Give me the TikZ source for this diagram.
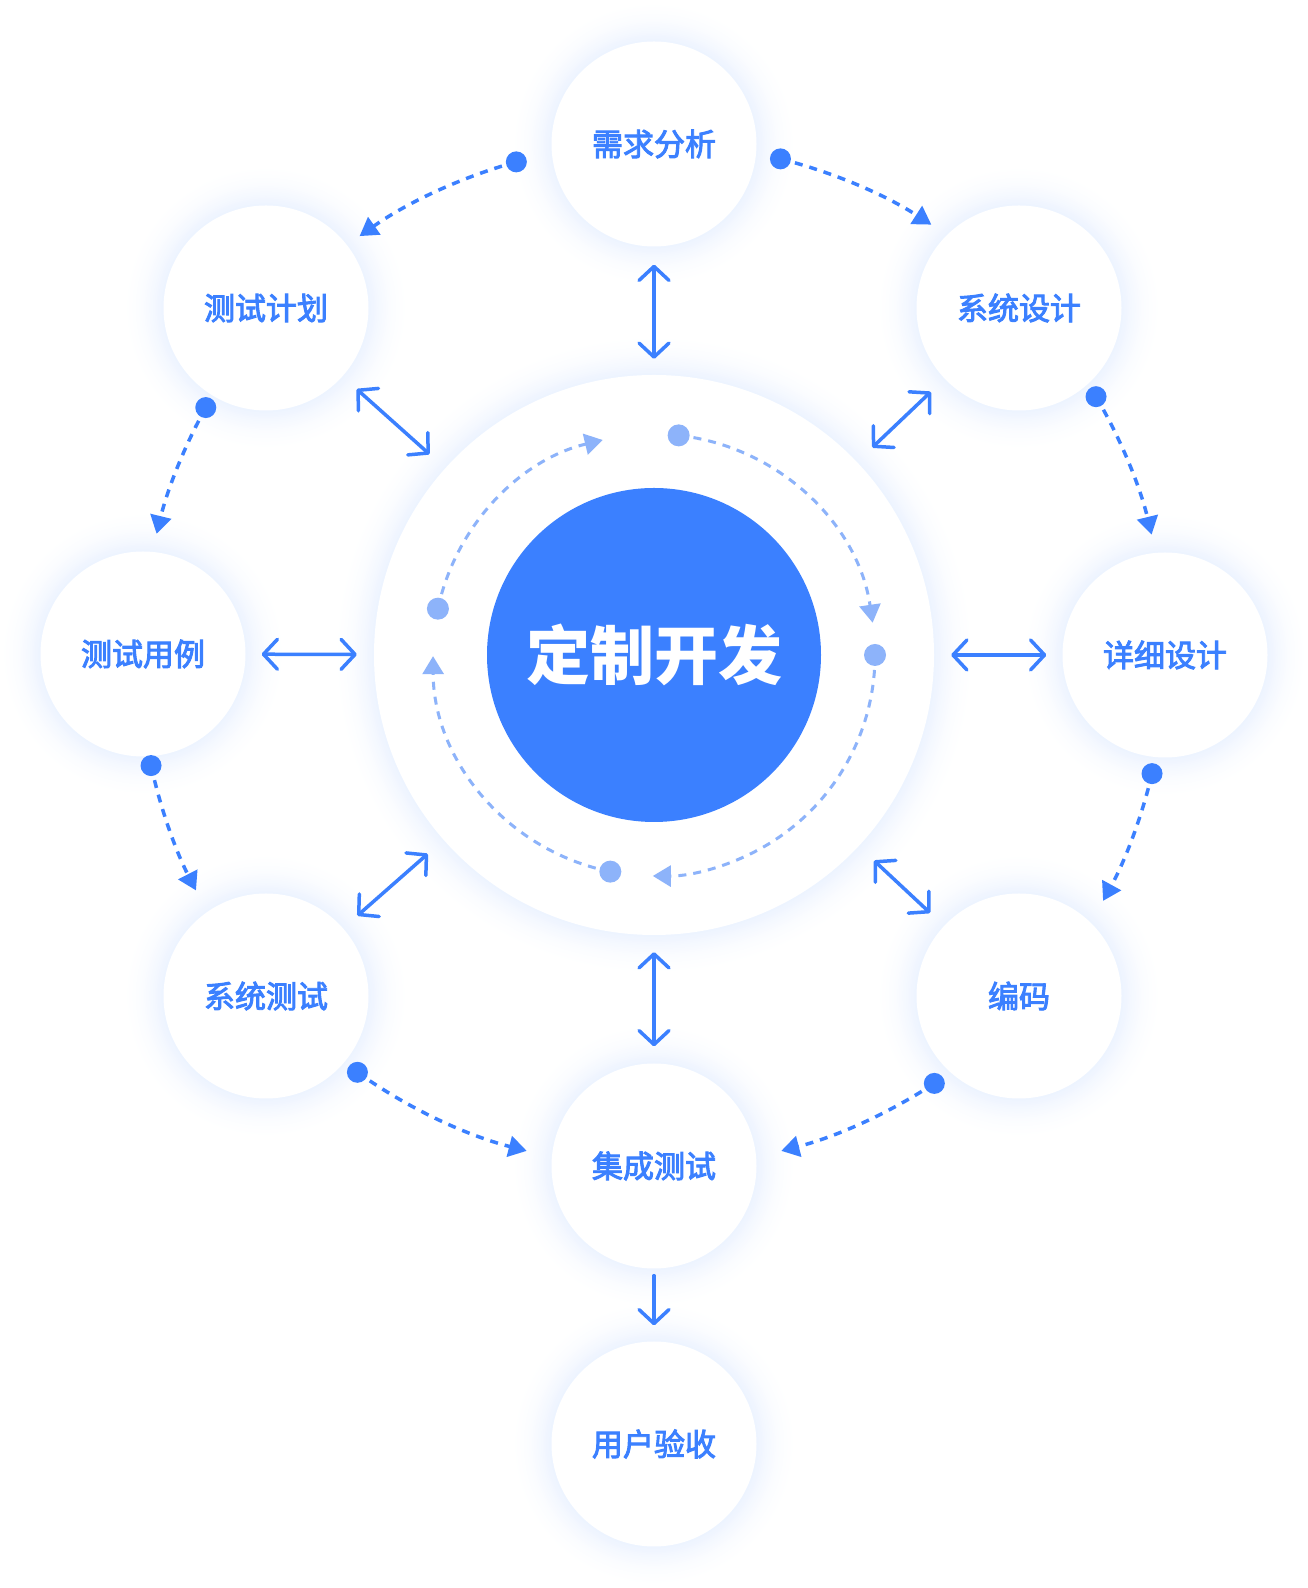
\documentclass[tikz,border=0pt]{standalone}
\usepackage{fontspec}
\newfontfamily\cjk{Noto Sans CJK SC}
\newfontfamily\cjkm{Noto Sans CJK SC}[FakeBold=3]
\usetikzlibrary{arrows.meta}
\definecolor{mainblue}{HTML}{3B80FF}
\definecolor{lightblue}{HTML}{8DB3FA}
\begin{document}
\begin{tikzpicture}[x=1pt,y=1pt,
  stage/.style={circle, fill=white, minimum size=205pt, inner sep=0pt,
    font=\cjkm\fontsize{31}{31}\selectfont, text=mainblue},
  dbl/.style={draw=mainblue, line width=3.5pt, line cap=round,
    {Straight Barb[length=14pt,width=30pt,line width=3.5pt,round]}-{Straight Barb[length=14pt,width=30pt,line width=3.5pt,round]}},
  single/.style={draw=mainblue, line width=3.5pt, line cap=round,
    -{Straight Barb[length=14pt,width=30pt,line width=3.5pt,round]}},
  odash/.style={draw=mainblue, line width=3.5pt, dash pattern=on 8pt off 7pt,
    -{Triangle[length=18pt,width=21pt]}},
  idash/.style={draw=lightblue, line width=3pt, dash pattern=on 8pt off 7pt,
    -{Triangle[length=18pt,width=21pt]}},
  odot/.style={circle, fill=mainblue, minimum size=21pt, inner sep=0pt},
  idot/.style={circle, fill=lightblue, minimum size=22pt, inner sep=0pt},
]
\useasboundingbox (0,0) rectangle (1308,1588);
\fill[white] (0,0) rectangle (1308,1588);

% glows (opaque graded rings, outer to inner)
\foreach \k in {24,...,1}{
  \pgfmathsetmacro\p{9*((25-\k)/24)^2}
  \foreach \px/\py/\r in {654/1444/102.5, 1019/1280/102.5, 266/1280/102.5,
      143/934/102.5, 1165/933/102.5, 266/592/102.5, 1019/592/102.5,
      654/422/102.5, 654/144/102.5, 654/933/280}{
    \fill[mainblue!\p!white] (\px,\py) circle[radius={(\r+1.7*\k)*1pt}];
  }
}

% central white circle
\node[circle, fill=white, minimum size=560pt, inner sep=0pt] (ctr) at (654,933) {};

% stage nodes
\node[stage] (xq) at (654,1444) {需求分析};
\node[stage] (xt) at (1019,1280) {系统设计};
\node[stage] (jh) at (266,1280) {测试计划};
\node[stage] (yl) at (143,934) {测试用例};
\node[stage] (xx) at (1165,933) {详细设计};
\node[stage] (cs) at (266,592) {系统测试};
\node[stage] (bm) at (1019,592) {编码};
\node[stage] (jc) at (654,422) {集成测试};
\node[stage] (ys) at (654,144) {用户验收};

% core
\node[circle, fill=mainblue, minimum size=334pt, inner sep=0pt, text=white,
  font=\cjk\bfseries\fontsize{64}{64}\selectfont] (core) at (654,933) {定制开发};

% double arrows to the centre
\draw[dbl, shorten <=18pt, shorten >=16pt] (xq) -- (ctr);
\draw[dbl, shorten <=17pt, shorten >=17pt] (ctr) -- (jc);
\draw[dbl, shorten <=16pt, shorten >=17pt] (yl) -- (ctr);
\draw[dbl, shorten <=17pt, shorten >=16pt] (ctr) -- (xx);
\draw[dbl, shorten <=19pt, shorten >=21pt] (jh) -- (ctr);
\draw[dbl, shorten <=19pt, shorten >=21pt] (xt) -- (ctr);
\draw[dbl, shorten <=19pt, shorten >=21pt] (cs) -- (ctr);
\draw[dbl, shorten <=19pt, shorten >=21pt] (bm) -- (ctr);
\draw[single, shorten <=7pt, shorten >=16pt] (jc) -- (ys);

% outer dashed arcs
\foreach \nm/\sa/\ea/\R in {o1/105.6/125.1/512, o2/75.7/57.2/512,
    o3/30.3/13.6/512, o4/-13.4/-28.7/512, o5/-56.8/-75.6/512,
    o6/151.1/166.3/512, o7/192.4/207.2/515, o8/234.6/255.6/512}{
  \path (ctr.center) ++(\sa:\R pt) node[odot] (\nm) {};
  \draw[odash] (\nm.center) arc[start angle=\sa, end angle=\ea, radius=\R pt];
}

% inner dashed arcs
\foreach \nm/\sa/\ea in {i1/83.6/8.4, i2/0/-90.3, i3/-101.4/-179.7, i4/167.9/103.4}{
  \path (core.center) ++(\sa:221pt) node[idot] (\nm) {};
  \draw[idash] (\nm.center) arc[start angle=\sa, end angle=\ea, radius=221pt];
}
\end{tikzpicture}
\end{document}
